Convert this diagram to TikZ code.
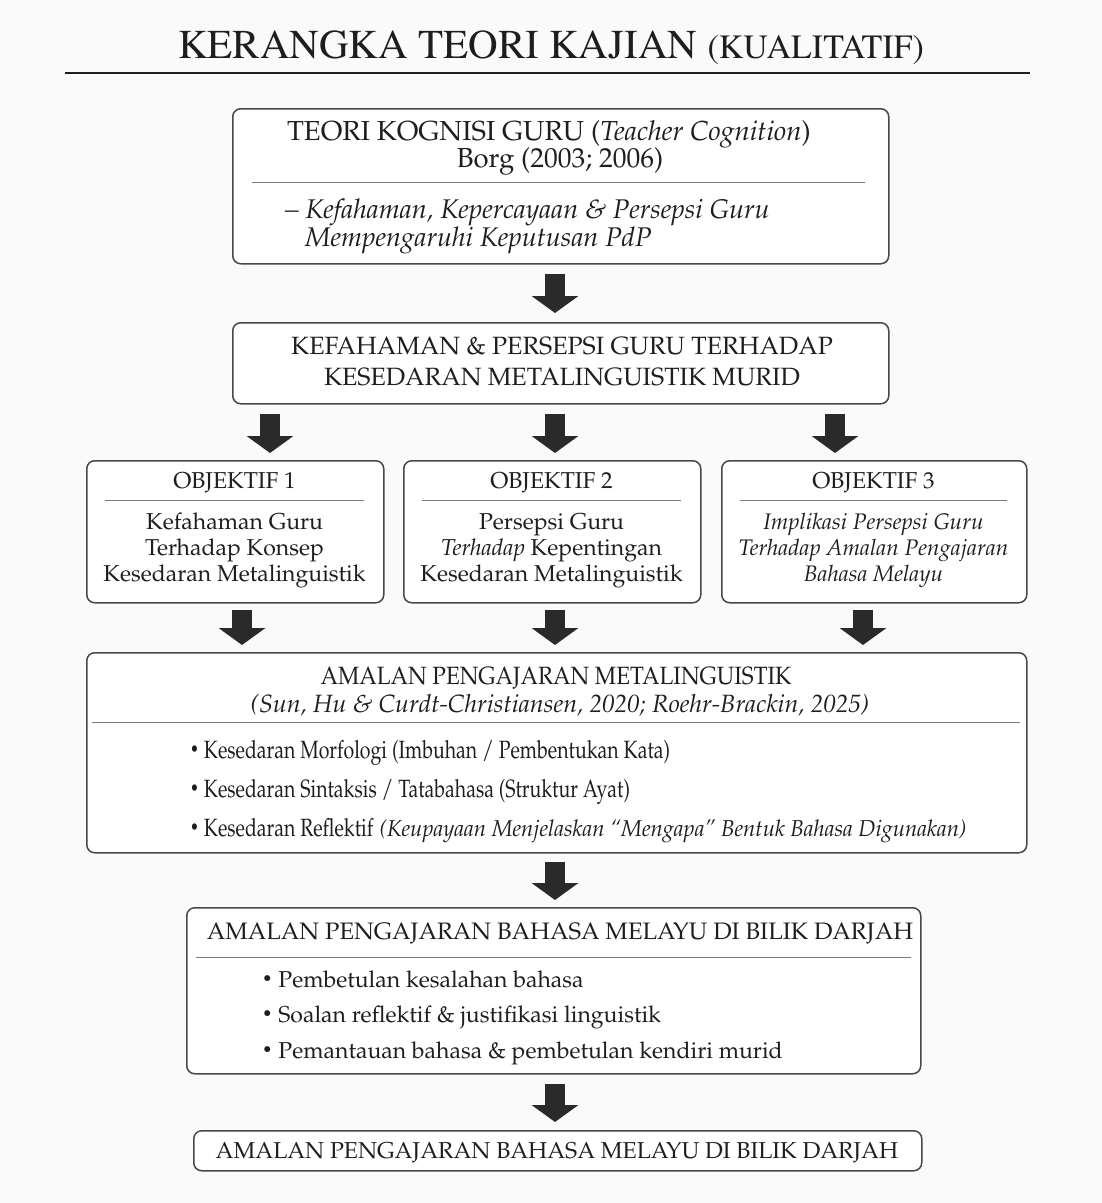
\documentclass[tikz,border=0pt]{standalone}
\usepackage[T1]{fontenc}
\usepackage{mathpazo}
\usepackage{graphicx}
\usetikzlibrary{arrows.meta,calc}
\definecolor{ink}{HTML}{1E1E1E}
\definecolor{frame}{HTML}{484848}
\definecolor{sepc}{HTML}{7A7A7A}
\definecolor{arr}{HTML}{2A2A2A}
\definecolor{bg}{HTML}{FAFAFA}
\newcommand{\myfs}[1]{\fontsize{#1}{#1}\selectfont}
\newcommand{\mybul}{\raisebox{0.1em}{\scalebox{0.75}{\textbullet}}}
\tikzset{
  box/.style={draw=frame, line width=1.5pt, rounded corners=8pt, fill=white, inner sep=0pt, anchor=north west},
  txt/.style={inner sep=0pt, text=ink, anchor=base},
  txtw/.style={inner sep=0pt, text=ink, anchor=base west},
  sepline/.style={draw=sepc, line width=1pt},
  bigarrow/.style={draw=arr, line width=20pt, -{Triangle[width=46pt,length=17pt]}},
}
\begin{document}
\begin{tikzpicture}[x=1pt,y=1pt]
\fill[bg] (0,0) rectangle (1102,-1203);
\useasboundingbox (0,0) rectangle (1102,-1203);

% title
\node[txt] (title) at (551,-58) {\fontfamily{ptm}\selectfont\myfs{41}KERANGKA TEORI KAJIAN {\myfs{34}(KUALITATIF)}};
\coordinate (rl) at (65,-73);
\coordinate (rr) at (1030,-73);
\draw[draw=ink, line width=2pt] (rl) -- (rr);

% x positions of arrows
\coordinate (xm) at (555,0);
\coordinate (xa) at (270,0);
\coordinate (xc) at (835,0);
\coordinate (xa2) at (242,0);
\coordinate (xc2) at (863,0);

% box 1
\node[box, minimum width=656pt, minimum height=155pt] (b1) at (232,-108) {};
\node[txt] (t1a) at (549,-140) {\myfs{27.5}TEORI KOGNISI GURU (\textit{Teacher Cognition})};
\node[txt] (t1b) at (560,-167) {\myfs{27.5}Borg (2003; 2006)};
\draw[sepline] (252,-182) -- (865,-182);
\node[txtw] (t1c) at (285,-218) {\myfs{27}\itshape -- Kefahaman, Kepercayaan \& Persepsi Guru};
\node[txtw] (t1d) at (305,-246) {\myfs{27}\itshape Mempengaruhi Keputusan PdP};

% box 2
\node[box, minimum width=656pt, minimum height=81pt] (b2) at (232,-322) {};
\node[txt] (t2a) at (562,-354) {\myfs{25}KEFAHAMAN \& PERSEPSI GURU TERHADAP};
\node[txt] (t2b) at (562,-385) {\myfs{25}KESEDARAN METALINGUISTIK MURID};

% objective boxes
\node[box, minimum width=297pt, minimum height=142pt] (oa) at (86,-460) {};
\node[box, minimum width=297pt, minimum height=142pt] (ob) at (403,-460) {};
\node[box, minimum width=305pt, minimum height=142pt] (oc) at (721,-460) {};

\node[txt] (oat) at (234.5,-488) {\myfs{23}OBJEKTIF 1};
\draw[sepline] (105,-500) -- (364,-500);
\node[txt] (oa1) at (234.5,-529) {\myfs{23}Kefahaman Guru};
\node[txt] (oa2) at (234.5,-555) {\myfs{23}Terhadap Konsep};
\node[txt] (oa3) at (234.5,-581) {\myfs{23}Kesedaran Metalinguistik};

\node[txt] (obt) at (551.5,-488) {\myfs{23}OBJEKTIF 2};
\draw[sepline] (422,-500) -- (681,-500);
\node[txt] (ob1) at (551.5,-529) {\myfs{23}Persepsi Guru};
\node[txt] (ob2) at (551.5,-555) {\myfs{23}\textit{Terhadap} Kepentingan};
\node[txt] (ob3) at (551.5,-581) {\myfs{23}Kesedaran Metalinguistik};

\node[txt] (oct) at (873.5,-488) {\myfs{23}OBJEKTIF 3};
\draw[sepline] (740,-500) -- (1007,-500);
\node[txt] (oc1) at (873.5,-529) {\myfs{22.5}\itshape Implikasi Persepsi Guru};
\node[txt] (oc2) at (873.5,-555) {\myfs{22.5}\itshape Terhadap Amalan Pengajaran};
\node[txt] (oc3) at (873.5,-581) {\myfs{22.5}\itshape Bahasa Melayu};

% amalan metalinguistik
\node[box, minimum width=940pt, minimum height=200pt] (am) at (86,-652) {};
\node[txt] (amt) at (556,-684) {\myfs{25}\scalebox{0.9}[1]{AMALAN PENGAJARAN METALINGUISTIK}};
\node[txt] (amc) at (560,-712) {\myfs{25}\itshape (Sun, Hu \& Curdt-Christiansen, 2020; Roehr-Brackin, 2025)};
\draw[sepline] (92,-722) -- (1020,-722);
\node[txtw] (am1) at (190,-758) {\myfs{25}\scalebox{0.78}[1]{\mybul\ Kesedaran Morfologi (Imbuhan / Pembentukan Kata)}};
\node[txtw] (am2) at (190,-797) {\myfs{25}\scalebox{0.78}[1]{\mybul\ Kesedaran Sintaksis / Tatabahasa (Struktur Ayat)}};
\node[txtw] (am3) at (190,-836) {\myfs{25}\scalebox{0.78}[1]{\mybul\ Kesedaran Reflektif} {\myfs{23}\itshape\scalebox{0.96}[1]{(Keupayaan Menjelaskan ``Mengapa'' Bentuk Bahasa Digunakan)}}};

% amalan bahasa melayu
\node[box, minimum width=734pt, minimum height=166pt] (bm) at (186,-907) {};
\node[txt] (bmt) at (560,-939) {\myfs{23.8}AMALAN PENGAJARAN BAHASA MELAYU DI BILIK DARJAH};
\draw[sepline] (196,-957) -- (911,-957);
\node[txtw] (bm1) at (262,-987) {\myfs{23}\mybul\ Pembetulan kesalahan bahasa};
\node[txtw] (bm2) at (262,-1022) {\myfs{23}\mybul\ Soalan reflektif \& justifikasi linguistik};
\node[txtw] (bm3) at (262,-1058) {\myfs{23}\mybul\ Pemantauan bahasa \& pembetulan kendiri murid};

% final box
\node[box, minimum width=728pt, minimum height=40pt] (fb) at (193,-1130) {};
\node[txt] (fbt) at (557,-1158) {\myfs{23}AMALAN PENGAJARAN BAHASA MELAYU DI BILIK DARJAH};

% arrows
\draw[bigarrow] ($(b1.south -| xm)+(0,-9)$) -- ($(b2.north -| xm)+(0,9)$);
\draw[bigarrow] ($(b2.south -| xa)+(0,-9)$) -- ($(oa.north -| xa)+(0,7)$);
\draw[bigarrow] ($(b2.south -| xm)+(0,-9)$) -- ($(ob.north -| xm)+(0,7)$);
\draw[bigarrow] ($(b2.south -| xc)+(0,-9)$) -- ($(oc.north -| xc)+(0,7)$);
\draw[bigarrow] ($(oa.south -| xa2)+(0,-6)$) -- ($(am.north -| xa2)+(0,7)$);
\draw[bigarrow] ($(ob.south -| xm)+(0,-6)$) -- ($(am.north -| xm)+(0,7)$);
\draw[bigarrow] ($(oc.south -| xc2)+(0,-6)$) -- ($(am.north -| xc2)+(0,7)$);
\draw[bigarrow] ($(am.south -| xm)+(0,-8)$) -- ($(bm.north -| xm)+(0,7)$);
\draw[bigarrow] ($(bm.south -| xm)+(0,-9)$) -- ($(fb.north -| xm)+(0,8)$);
\end{tikzpicture}
\end{document}
